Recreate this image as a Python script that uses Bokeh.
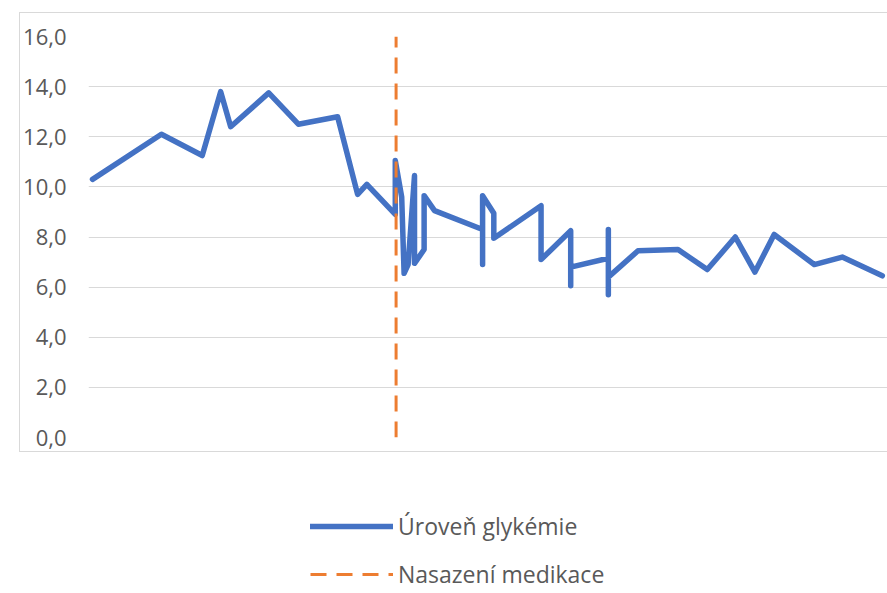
from bokeh.plotting import figure
from bokeh.layouts import column
from bokeh.models import ColumnDataSource, Range1d, FixedTicker, Legend, LegendItem
from bokeh.embed import file_html
from bokeh.resources import INLINE

# --- data ---
days = [0.5, 9.1, 14.2, 16.5, 17.75, 22.5, 26.2, 31.1, 33.6, 34.75,
        38.3, 38.3, 39.1, 39.4, 39.9, 40.7, 40.7, 41.9, 41.9, 43.2,
        49.2, 49.2, 49.2, 50.6, 50.6, 56.5, 56.5, 60.2, 60.2, 60.2,
        64.9, 64.9, 64.9, 64.9, 68.6, 73.6, 77.25, 80.75, 83.2, 85.6,
        90.6, 94.1, 99.1]
glycemia = [10.3, 12.1, 11.25, 13.8, 12.4, 13.75, 12.5, 12.8, 9.7, 10.1,
            8.9, 11.05, 9.6, 6.55, 6.9, 10.45, 6.95, 7.5, 9.65, 9.05,
            8.3, 6.9, 9.65, 8.95, 7.95, 9.25, 7.1, 8.25, 6.05, 6.8,
            7.15, 8.3, 5.7, 6.4, 7.45, 7.5, 6.7, 8.0, 6.6, 8.1,
            6.9, 7.2, 6.45]
medication_day = [38.4, 38.4]
medication_y = [0.0, 16.0]
y_ticks = [0, 2, 4, 6, 8, 10, 12, 14, 16]
y_tick_labels = ["0,0", "2,0", "4,0", "6,0", "8,0", "10,0", "12,0", "14,0", "16,0"]
series_names = ["Úroveň glykémie", "Nasazení medikace"]

BLUE = "#4472C4"
ORANGE = "#ED7D31"
GRID = "#D9D9D9"
TEXT = "#595959"

# main chart (inside the light grey bordered box)
p = figure(width=870, height=440, output_backend="svg", toolbar_location=None,
           x_range=Range1d(0, 99.875), y_range=Range1d(0, 16),
           x_axis_location=None, min_border_left=68, min_border_right=2,
           min_border_top=23, min_border_bottom=16)
p.margin = (12, 0, 0, 19)
p.styles = {"border": "1px solid " + GRID}
p.outline_line_color = None
p.background_fill_color = "white"
p.border_fill_color = "white"

src = ColumnDataSource(dict(x=days, y=glycemia))
r1 = p.line("x", "y", source=src, line_color=BLUE, line_width=5.5,
            line_join="round", line_cap="round")
src2 = ColumnDataSource(dict(x=medication_day, y=medication_y))
r2 = p.line("x", "y", source=src2, line_color=ORANGE, line_width=3, line_dash="16 10")

p.xgrid.visible = False
p.ygrid.grid_line_color = GRID
p.ygrid.grid_line_width = 1
p.yaxis.ticker = FixedTicker(ticks=y_ticks)
p.yaxis.major_label_overrides = {t: l for t, l in zip(y_ticks, y_tick_labels)}
p.yaxis.axis_line_color = None
p.yaxis.major_tick_line_color = None
p.yaxis.minor_tick_line_color = None
p.yaxis.major_tick_out = 0
p.yaxis.major_tick_in = 0
p.yaxis.major_label_standoff = 22
p.yaxis.major_label_text_font = "Open Sans"
p.yaxis.major_label_text_font_size = "22px"
p.yaxis.major_label_text_color = TEXT

# legend area below the box
pl = figure(width=887, height=138, output_backend="svg", toolbar_location=None,
            x_range=Range1d(0, 1), y_range=Range1d(0, 1),
            x_axis_location=None, y_axis_location=None,
            min_border=0, outline_line_color=None)
pl.grid.visible = False
nan = float("nan")
l1 = pl.line(x=[nan], y=[nan], line_color=BLUE, line_width=5.5, line_cap="round")
l2 = pl.line(x=[nan], y=[nan], line_color=ORANGE, line_width=3, line_dash="16 10")
legend = Legend(items=[LegendItem(label=series_names[0], renderers=[l1]),
                       LegendItem(label=series_names[1], renderers=[l2])],
                location=(242, 0), orientation="vertical",
                glyph_width=83, glyph_height=30, label_height=30,
                label_standoff=5, spacing=16, padding=0, margin=0,
                border_line_color=None, background_fill_alpha=0,
                label_text_font="Open Sans", label_text_font_size="23px",
                label_text_color=TEXT)
pl.add_layout(legend)

layout = column(p, pl, spacing=0)
open("out.html", "w").write(file_html(layout, INLINE))
